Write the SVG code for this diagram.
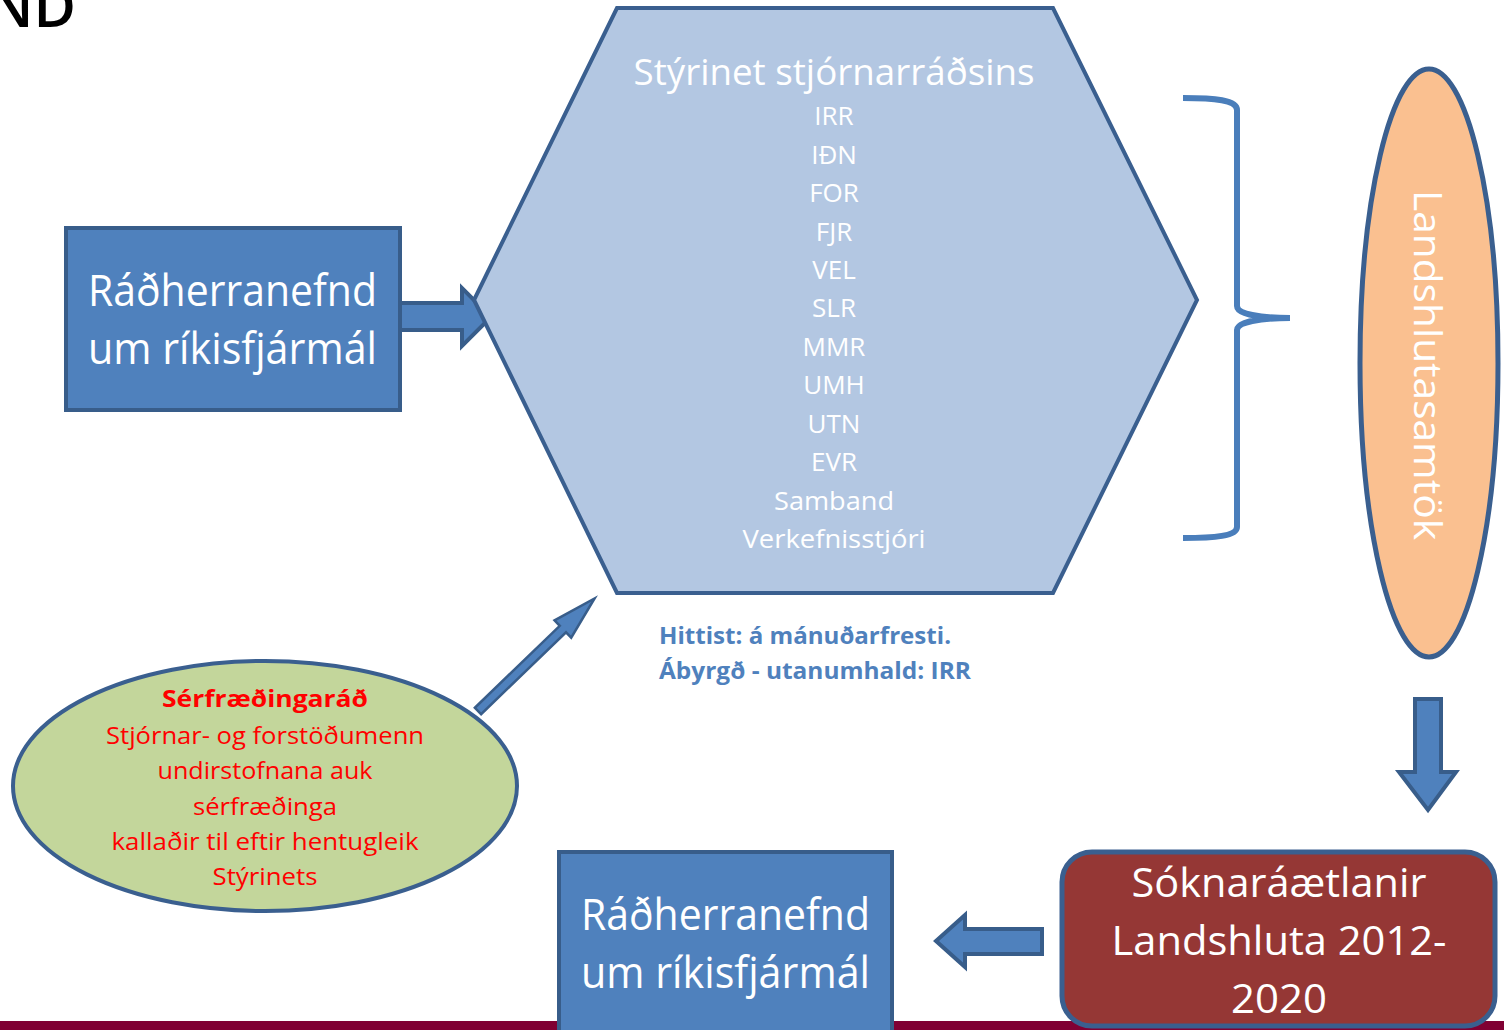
<svg xmlns="http://www.w3.org/2000/svg" width="1504" height="1030" viewBox="0 0 1504 1030">
<style>
.t{font-family:"Open Sans","Liberation Sans",sans-serif;fill:#fff}
.blue{fill:#4F81BD;stroke:#385D8A;stroke-width:4}
.h{font-size:26px;text-anchor:middle}
.r{font-family:"Open Sans","Liberation Sans",sans-serif;fill:#FF0000;font-size:24px;text-anchor:middle}
.hb{font-family:"Open Sans","Liberation Sans",sans-serif;fill:#4F81BD;font-size:23px;font-weight:bold}
</style>
<rect x="0" y="0" width="1504" height="1030" fill="#fff"/>
<rect x="0" y="1021" width="1504" height="9" fill="#800033"/>
<text x="-12" y="27" font-family="Open Sans,Liberation Sans,sans-serif" font-size="58" font-weight="600" fill="#000">ND</text>

<g id="connectors">
  <polygon class="blue" points="400,303 462,303 462,288 491,317 462,346 462,330 400,330"/>
  <polygon class="blue" style="stroke-width:2.5" transform="translate(478,711) rotate(-44)" points="0,-4.5 118,-4.5 118,-12 162,0 118,12 118,4.5 0,4.5"/>
  <polygon class="blue" points="1415,699 1441,699 1441,772 1456,772 1428,810 1399,772 1415,772"/>
  <polygon class="blue" points="1042,929 965,929 965,915 936,941 965,967 965,954 1042,954"/>
  <path d="M1183,98 C1215,98 1237,100 1237,110 L1237,306 C1237,314 1260,318 1290,318 C1260,318 1237,322 1237,330 L1237,527 C1237,536 1215,538 1183,538" fill="none" stroke="#4A7EBB" stroke-width="6"/>
</g>

<g id="n-hex">
  <polygon points="617,8 1053,8 1197,300 1053,593 617,593 474,300" fill="#B3C7E2" stroke="#3A5F8F" stroke-width="4"/>
  <text class="t" x="834" y="85" font-size="36" text-anchor="middle" textLength="401" lengthAdjust="spacingAndGlyphs">Stýrinet stjórnarráðsins</text>
  <text class="t h" x="834" y="125">IRR</text>
  <text class="t h" x="834" y="164">IÐN</text>
  <text class="t h" x="834" y="202">FOR</text>
  <text class="t h" x="834" y="241">FJR</text>
  <text class="t h" x="834" y="279">VEL</text>
  <text class="t h" x="834" y="317">SLR</text>
  <text class="t h" x="834" y="356">MMR</text>
  <text class="t h" x="834" y="394">UMH</text>
  <text class="t h" x="834" y="433">UTN</text>
  <text class="t h" x="834" y="471">EVR</text>
  <text class="t h" x="834" y="510" textLength="120" lengthAdjust="spacingAndGlyphs">Samband</text>
  <text class="t h" x="834" y="548" textLength="183" lengthAdjust="spacingAndGlyphs">Verkefnisstjóri</text>
</g>

<g id="n-radh1">
  <rect class="blue" x="66" y="228" width="334" height="182"/>
  <text class="t" x="88" y="306" font-size="43" textLength="289" lengthAdjust="spacingAndGlyphs">Ráðherranefnd</text>
  <text class="t" x="88" y="364" font-size="43" textLength="289" lengthAdjust="spacingAndGlyphs">um ríkisfjármál</text>
</g>

<g id="n-landshl">
  <ellipse cx="1429" cy="363" rx="69" ry="294" fill="#FAC090" stroke="#3A5F8F" stroke-width="5"/>
  <text class="t" transform="translate(1414,365) rotate(90)" font-size="38" text-anchor="middle" textLength="350" lengthAdjust="spacingAndGlyphs">Landshlutasamtök</text>
</g>

<g id="n-hittist">
  <text class="hb" x="659" y="644" textLength="292" lengthAdjust="spacingAndGlyphs">Hittist: á mánuðarfresti.</text>
  <text class="hb" x="659" y="679" textLength="312" lengthAdjust="spacingAndGlyphs">Ábyrgð - utanumhald: IRR</text>
</g>

<g id="n-serfr">
  <ellipse cx="265" cy="786" rx="252" ry="125" fill="#C3D69B" stroke="#3A5F8F" stroke-width="4"/>
  <text class="r" x="265" y="707" font-weight="bold" textLength="206" lengthAdjust="spacingAndGlyphs">Sérfræðingaráð</text>
  <text class="r" x="265" y="744" textLength="318" lengthAdjust="spacingAndGlyphs">Stjórnar- og forstöðumenn</text>
  <text class="r" x="265" y="779" textLength="215" lengthAdjust="spacingAndGlyphs">undirstofnana auk</text>
  <text class="r" x="265" y="815" textLength="144" lengthAdjust="spacingAndGlyphs">sérfræðinga</text>
  <text class="r" x="265" y="850" textLength="307" lengthAdjust="spacingAndGlyphs">kallaðir til eftir hentugleik</text>
  <text class="r" x="265" y="885" textLength="105" lengthAdjust="spacingAndGlyphs">Stýrinets</text>
</g>

<g id="n-radh2">
  <rect class="blue" x="559" y="852" width="333" height="190"/>
  <text class="t" x="581" y="930" font-size="43" textLength="289" lengthAdjust="spacingAndGlyphs">Ráðherranefnd</text>
  <text class="t" x="581" y="988" font-size="43" textLength="289" lengthAdjust="spacingAndGlyphs">um ríkisfjármál</text>
</g>

<g id="n-sokn">
  <rect x="1062" y="852" width="433" height="174" rx="30" fill="#953735" stroke="#3A5F8F" stroke-width="5"/>
  <text class="t" x="1279" y="897" font-size="41" text-anchor="middle" textLength="295" lengthAdjust="spacingAndGlyphs">Sóknaráætlanir</text>
  <text class="t" x="1279" y="955" font-size="41" text-anchor="middle" textLength="335" lengthAdjust="spacingAndGlyphs">Landshluta 2012-</text>
  <text class="t" x="1279" y="1013" font-size="41" text-anchor="middle" textLength="96" lengthAdjust="spacingAndGlyphs">2020</text>
</g>
</svg>
